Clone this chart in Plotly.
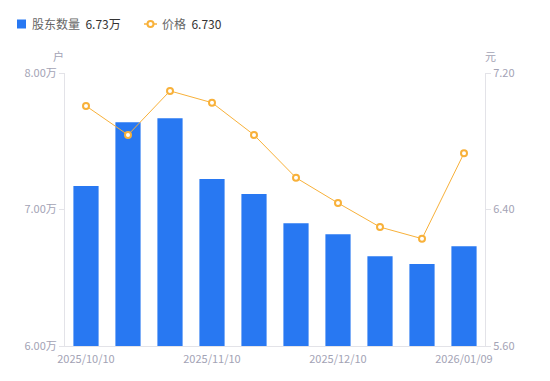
import plotly.graph_objects as go

dates = ["2025/10/10", "2025/10/20", "2025/10/31", "2025/11/10", "2025/11/20",
         "2025/11/28", "2025/12/10", "2025/12/19", "2025/12/31", "2026/01/09"]
holders = [71720, 76390, 76680, 72230, 71140, 68990, 68180, 66570, 66010, 67300]
prices = [7.007, 6.837, 7.095, 7.026, 6.837, 6.586, 6.438, 6.297, 6.229, 6.730]
shown_ticks = ["2025/10/10", "2025/11/10", "2025/12/10", "2026/01/09"]
left_ticks = [60000, 70000, 80000]
left_labels = ["6.00万", "7.00万", "8.00万"]
right_ticks = [5.60, 6.40, 7.20]

BLUE = "#2878F2"
ORANGE = "#F8B13A"
GRAY = "#A3A3B5"
AX = "#E3E3E8"
FONT = "Noto Sans CJK SC, Roboto, sans-serif"

W, H = 550, 381
L, R, T, B = 65, 65, 73, 35
PW, PH = W - L - R, H - T - B

def px(x):
    return (x - L) / PW

def py(y):
    return (H - B - y) / PH

fig = go.Figure()
fig.add_trace(go.Bar(x=dates, y=holders, marker=dict(color=BLUE, line=dict(width=0)),
                     name="股东数量", yaxis="y"))
fig.add_trace(go.Scatter(x=dates, y=prices, mode="lines+markers", yaxis="y2", name="价格",
                         line=dict(color=ORANGE, width=1),
                         marker=dict(size=6, color="white", line=dict(color=ORANGE, width=2))))

fig.update_layout(
    width=W, height=H,
    margin=dict(l=L, r=R, t=T, b=B, autoexpand=False),
    paper_bgcolor="white", plot_bgcolor="white",
    showlegend=False,
    bargap=0.4,
    font=dict(family=FONT, size=11, color=GRAY),
    xaxis=dict(type="category", tickmode="array", tickvals=shown_ticks, ticktext=shown_ticks,
               range=[-0.5, len(dates) - 0.5], ticklabelstandoff=3,
               showline=True, linecolor=AX, linewidth=1, ticks="", showgrid=False, automargin=False,
               tickfont=dict(size=11, color=GRAY), zeroline=False),
    yaxis=dict(range=[60000, 80000], tickmode="array", tickvals=left_ticks, ticktext=left_labels,
               showline=True, linecolor=AX, linewidth=1, ticks="outside", ticklen=5, tickcolor=AX,
               showgrid=False, zeroline=False, automargin=False, tickfont=dict(size=11, color=GRAY)),
    yaxis2=dict(range=[5.6, 7.2], overlaying="y", side="right", tickmode="array",
                tickvals=right_ticks, ticktext=[f"{v:.2f}" for v in right_ticks], automargin=False,
                showline=True, linecolor=AX, linewidth=1, ticks="outside", ticklen=5, tickcolor=AX,
                showgrid=False, zeroline=False, tickfont=dict(size=11, color=GRAY)),
)

# axis unit labels
fig.add_annotation(x=px(58), y=py(56), xref="paper", yref="paper", text="户", showarrow=False,
                   font=dict(size=11, color=GRAY), xanchor="center", yanchor="middle")
fig.add_annotation(x=px(490), y=py(56), xref="paper", yref="paper", text="元", showarrow=False,
                   font=dict(size=11, color=GRAY), xanchor="center", yanchor="middle")

# legend
ly = 24
fig.add_shape(type="rect", xref="paper", yref="paper", x0=px(17), x1=px(26), y0=py(ly - 4.5), y1=py(ly + 4.5),
              fillcolor=BLUE, line=dict(width=0))
fig.add_annotation(x=px(30), y=py(ly), xref="paper", yref="paper", xanchor="left", yanchor="middle",
                   showarrow=False,
                   text=f"股东数量  <span style='color:#333333'>{holders[-1]/10000:.2f}万</span>",
                   font=dict(size=12, color="#666666"))
fig.add_shape(type="line", xref="paper", yref="paper", x0=px(144), x1=px(157), y0=py(ly), y1=py(ly),
              line=dict(color=ORANGE, width=1.5))
fig.add_shape(type="circle", xref="paper", yref="paper", x0=px(147.5), x1=px(153.5), y0=py(ly - 3), y1=py(ly + 3),
              fillcolor="white", line=dict(color=ORANGE, width=2))
fig.add_annotation(x=px(160), y=py(ly), xref="paper", yref="paper", xanchor="left", yanchor="middle",
                   showarrow=False,
                   text=f"价格  <span style='color:#333333'>{prices[-1]:.3f}</span>",
                   font=dict(size=12, color="#666666"))

fig.write_html("out.html", config={"displayModeBar": False},
               post_script="document.body.style.margin='0';")
